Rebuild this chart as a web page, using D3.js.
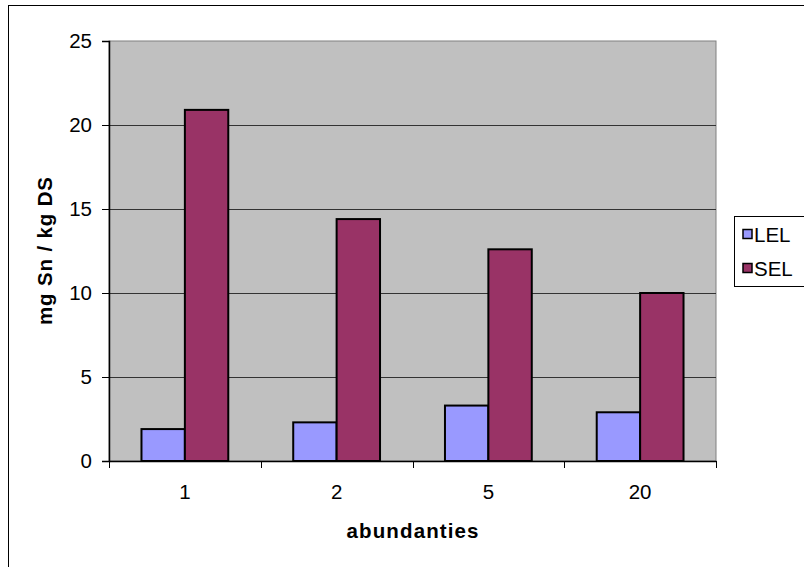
<!DOCTYPE html>
<html>
<head>
<meta charset="utf-8">
<script src="https://cdn.jsdelivr.net/npm/d3@7"></script>
<style>
  html, body { margin: 0; padding: 0; background: #fff; }
  svg { display: block; font-family: "Liberation Sans", Arial, sans-serif; }
</style>
</head>
<body>
<svg id="chart" width="804" height="567"></svg>
<script>
// Tin concentrations per abundance class
const categories = ["1", "2", "5", "20"];
const seriesNames = ["LEL", "SEL"];
const lelValues = [1.9, 2.3, 3.3, 2.9];
const selValues = [20.9, 14.4, 12.6, 10.0];
const yTicks = [0, 5, 10, 15, 20, 25];
const seriesColors = ["#9999FF", "#993366"];

const svg = d3.select("#chart");

// Outer chart frame (runs past the right and bottom edges)
svg.append("rect")
  .attr("x", 8.5).attr("y", 5.5)
  .attr("width", 900).attr("height", 700)
  .attr("fill", "#fff").attr("stroke", "#000").attr("stroke-width", 1);

const plot = { left: 109, right: 716, top: 41, bottom: 461 };

const x = d3.scaleBand()
  .domain(categories)
  .range([plot.left, plot.right])
  .paddingInner(0.428)
  .paddingOuter(0.214);

const xSeries = d3.scaleBand()
  .domain(seriesNames)
  .range([0, x.bandwidth()]);

const y = d3.scaleLinear()
  .domain([0, 25])
  .range([plot.bottom, plot.top]);

// Plot area background
svg.append("rect")
  .attr("x", plot.left).attr("y", plot.top)
  .attr("width", plot.right - plot.left).attr("height", plot.bottom - plot.top)
  .attr("fill", "#C0C0C0").attr("stroke", "#808080").attr("stroke-width", 1);

// Horizontal gridlines
svg.append("g")
  .selectAll("line")
  .data(yTicks.filter(d => d > 0 && d < 25))
  .join("line")
  .attr("x1", plot.left).attr("x2", plot.right)
  .attr("y1", d => Math.round(y(d)) + 0.5).attr("y2", d => Math.round(y(d)) + 0.5)
  .attr("stroke", "#333").attr("stroke-width", 1);

// Bars
const rows = categories.map((c, i) => ({ cat: c, values: [lelValues[i], selValues[i]] }));
svg.append("g")
  .selectAll("g")
  .data(rows)
  .join("g")
  .attr("transform", d => `translate(${x(d.cat)},0)`)
  .selectAll("rect")
  .data(d => d.values.map((v, j) => ({ name: seriesNames[j], value: v, color: seriesColors[j] })))
  .join("rect")
  .attr("x", d => xSeries(d.name))
  .attr("width", xSeries.bandwidth())
  .attr("y", d => y(d.value))
  .attr("height", d => y(0) - y(d.value))
  .attr("fill", d => d.color)
  .attr("stroke", "#000").attr("stroke-width", 2);

// Y axis
const yAxis = svg.append("g")
  .attr("transform", `translate(${plot.left},0)`)
  .call(d3.axisLeft(y).tickValues(yTicks).tickSize(7).tickPadding(10).tickFormat(d3.format("d")));
yAxis.select(".domain").attr("stroke", "#000").attr("stroke-width", 1.5);
yAxis.selectAll(".tick line").attr("stroke", "#000");
yAxis.selectAll("text")
  .attr("font-size", 20.5).attr("fill", "#000")
  .attr("font-family", "Liberation Sans, Arial, sans-serif");

// X axis: labels centred on categories, ticks on category boundaries
const xAxis = svg.append("g")
  .attr("transform", `translate(0,${plot.bottom})`)
  .call(d3.axisBottom(x).tickSize(0).tickPadding(23));
xAxis.select(".domain").attr("stroke", "#000").attr("stroke-width", 1.5);
xAxis.selectAll("text")
  .attr("font-size", 20.5).attr("fill", "#000")
  .attr("font-family", "Liberation Sans, Arial, sans-serif");

const boundaries = categories.map(c => x(c) - x.step() * x.paddingInner() / 2)
  .concat([x(categories[categories.length - 1]) + x.bandwidth() + x.step() * x.paddingInner() / 2]);
svg.append("g")
  .selectAll("line")
  .data(boundaries)
  .join("line")
  .attr("x1", d => Math.round(d) + 0.5).attr("x2", d => Math.round(d) + 0.5)
  .attr("y1", plot.bottom).attr("y2", plot.bottom + 7)
  .attr("stroke", "#000").attr("stroke-width", 1);

// Axis titles
svg.append("text")
  .attr("x", (plot.left + plot.right) / 2).attr("y", 538)
  .attr("text-anchor", "middle")
  .attr("font-size", 20.5).attr("font-weight", "bold")
  .attr("textLength", 132).attr("lengthAdjust", "spacing")
  .text("abundanties");

svg.append("text")
  .attr("transform", `translate(52,${(plot.top + plot.bottom) / 2}) rotate(-90)`)
  .attr("text-anchor", "middle")
  .attr("font-size", 20.5).attr("font-weight", "bold")
  .attr("textLength", 148).attr("lengthAdjust", "spacing")
  .text("mg Sn / kg DS");

// Legend (box continues past the right edge)
const legend = svg.append("g");
legend.append("rect")
  .attr("x", 734.5).attr("y", 216.5)
  .attr("width", 100).attr("height", 70)
  .attr("fill", "#fff").attr("stroke", "#000").attr("stroke-width", 1);
const items = legend.selectAll("g.item")
  .data(seriesNames.map((n, i) => ({ name: n, color: seriesColors[i] })))
  .join("g")
  .attr("class", "item")
  .attr("transform", (d, i) => `translate(0,${242 + i * 34})`);
items.append("rect")
  .attr("x", 743).attr("y", -12.5)
  .attr("width", 9).attr("height", 9)
  .attr("fill", d => d.color).attr("stroke", "#000").attr("stroke-width", 1.5);
items.append("text")
  .attr("x", 754).attr("y", 0)
  .attr("font-size", 20.5)
  .text(d => d.name);
</script>
</body>
</html>
